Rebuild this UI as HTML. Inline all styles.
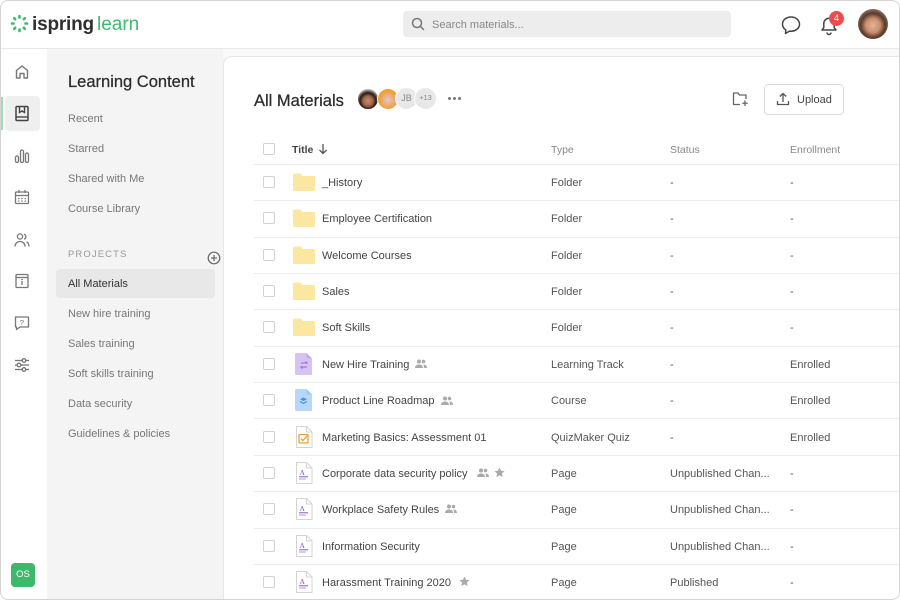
<!DOCTYPE html>
<html><head><meta charset="utf-8">
<style>
*{margin:0;padding:0;box-sizing:border-box}
html,body{width:900px;height:600px;overflow:hidden}
body{background:#fff;font-family:"Liberation Sans",Arial,sans-serif;position:relative;color:#444}
.a{position:absolute;white-space:nowrap}
.t{position:absolute;white-space:nowrap;height:16px;line-height:16px}
.side{font-size:11px;color:#777;left:68px}
.cb{position:absolute;left:263px;width:12px;height:12px;border:1px solid #d2d2d2;border-radius:2px;background:#fff}
.line{position:absolute;left:254px;width:646px;height:1px;background:#ececec}
.cell{position:absolute;font-size:11px;color:#555;height:16px;line-height:16px;white-space:nowrap}
.nm{color:#444;left:322px}
.ic{position:absolute}
</style></head><body>

<!-- header -->
<div class="a" style="left:0;top:48px;width:900px;height:1px;background:#e8e8e8"></div>
<svg class="ic" style="left:10px;top:14px" width="19" height="19" viewBox="0 0 19 19">
 <g stroke="#3dba6f" stroke-width="2.6" stroke-linecap="round">
  <line x1="9.5" y1="2" x2="9.5" y2="3.5"/><line x1="9.5" y1="15.5" x2="9.5" y2="17"/>
  <line x1="2" y1="9.5" x2="3.5" y2="9.5"/><line x1="15.5" y1="9.5" x2="17" y2="9.5"/>
  <line x1="4.2" y1="4.2" x2="5.2" y2="5.2"/><line x1="13.8" y1="13.8" x2="14.8" y2="14.8"/>
  <line x1="14.8" y1="4.2" x2="13.8" y2="5.2"/><line x1="4.2" y1="14.8" x2="5.2" y2="13.8"/>
 </g>
</svg>
<div class="a" style="left:32px;top:13px;font-size:19px;line-height:24px;font-weight:bold;color:#2f2f2f;letter-spacing:-0.2px">ispring</div>
<div class="a" style="left:97px;top:13px;font-size:19px;line-height:24px;color:#3dba6f">learn</div>

<div class="a" style="left:403px;top:11px;width:328px;height:26px;background:#ededed;border-radius:4px"></div>
<svg class="ic" style="left:411px;top:17px" width="14" height="14" viewBox="0 0 14 14"><circle cx="6" cy="6" r="4.5" fill="none" stroke="#777" stroke-width="1.5"/><line x1="9.3" y1="9.3" x2="12.5" y2="12.5" stroke="#777" stroke-width="1.5" stroke-linecap="round"/></svg>
<div class="t" style="left:432px;top:17px;font-size:11px;color:#888">Search materials...</div>

<svg class="ic" style="left:780px;top:14px" width="22" height="22" viewBox="0 0 22 22"><path d="M11 3C6 3 2.5 6.2 2.5 10.2c0 2.4 1.3 4.4 3.3 5.7L5.5 19.5l4-2.4c.5.1 1 .1 1.5.1 5 0 8.5-3.2 8.5-7S16 3 11 3z" fill="none" stroke="#444" stroke-width="1.5" stroke-linejoin="round"/></svg>
<svg class="ic" style="left:818px;top:14px" width="22" height="22" viewBox="0 0 22 22"><path d="M4 16h14l-1.8-2.4V9.5a5.2 5.2 0 0 0-10.4 0v4.1z" fill="none" stroke="#444" stroke-width="1.5" stroke-linejoin="round"/><path d="M9 18.5a2 2 0 0 0 4 0" fill="none" stroke="#444" stroke-width="1.5"/></svg>
<div class="a" style="left:829px;top:11px;width:15px;height:15px;border-radius:50%;background:#ef4b4b;color:#fff;font-size:9.5px;line-height:15px;text-align:center">4</div>
<div class="a" style="left:858px;top:9px;width:30px;height:30px;border-radius:50%;background:radial-gradient(circle at 50% 55%,#e2b59a 0,#c98f6e 32%,#5a3a2a 55%,#a08070 80%,#c9b3a5 100%)"></div>

<!-- left rail -->
<div class="a" style="left:5px;top:96px;width:35px;height:35px;border-radius:4px;background:#efefef"></div>
<div class="a" style="left:1px;top:97px;width:2px;height:33px;background:#9fdcb6"></div>
<svg class="ic" style="left:14px;top:64px" width="16" height="16" viewBox="0 0 16 16"><path d="M2.5 14V6.5L8 2l5.5 4.5V14h-3.5V9.5h-4V14z" fill="none" stroke="#777" stroke-width="1.4" stroke-linejoin="round"/></svg>
<svg class="ic" style="left:14px;top:105px" width="16" height="17" viewBox="0 0 16 17"><rect x="2" y="1.5" width="12" height="14" rx="1" fill="none" stroke="#444" stroke-width="1.5"/><line x1="2" y1="12" x2="14" y2="12" stroke="#444" stroke-width="1.4"/><path d="M5.5 1.5v6l2.5-1.5 2.5 1.5v-6" fill="none" stroke="#444" stroke-width="1.4"/></svg>
<svg class="ic" style="left:14px;top:148px" width="16" height="16" viewBox="0 0 16 16"><g fill="none" stroke="#777" stroke-width="1.3"><rect x="1.5" y="8" width="3" height="6.5" rx="1.5"/><rect x="6.5" y="2" width="3" height="12.5" rx="1.5"/><rect x="11.5" y="5" width="3" height="9.5" rx="1.5"/></g></svg>
<svg class="ic" style="left:14px;top:189px" width="16" height="16" viewBox="0 0 16 16"><g fill="none" stroke="#777" stroke-width="1.3"><rect x="1.5" y="3" width="13" height="11.5" rx="1"/><line x1="1.5" y1="6.5" x2="14.5" y2="6.5"/><line x1="5" y1="1" x2="5" y2="4"/><line x1="11" y1="1" x2="11" y2="4"/></g><g fill="#777"><rect x="4" y="9" width="1.4" height="1.2"/><rect x="7.3" y="9" width="1.4" height="1.2"/><rect x="10.6" y="9" width="1.4" height="1.2"/><rect x="4" y="11.5" width="1.4" height="1.2"/><rect x="7.3" y="11.5" width="1.4" height="1.2"/><rect x="10.6" y="11.5" width="1.4" height="1.2"/></g></svg>
<svg class="ic" style="left:14px;top:232px" width="16" height="16" viewBox="0 0 16 16"><g fill="none" stroke="#777" stroke-width="1.3"><circle cx="6" cy="4.5" r="2.6"/><path d="M1 14.5c0-3 2.2-5 5-5s5 2 5 5"/><path d="M10 2.2a2.6 2.6 0 0 1 0 5"/><path d="M12.5 9.8c1.6.7 2.5 2.5 2.5 4.7"/></g></svg>
<svg class="ic" style="left:14px;top:273px" width="16" height="16" viewBox="0 0 16 16"><g fill="none" stroke="#777" stroke-width="1.3"><rect x="2" y="1.5" width="12" height="13" rx="1"/><line x1="2" y1="4.5" x2="14" y2="4.5"/><line x1="8" y1="8" x2="8" y2="12"/></g><circle cx="8" cy="6.5" r=".8" fill="#777"/></svg>
<svg class="ic" style="left:14px;top:315px" width="16" height="16" viewBox="0 0 16 16"><path d="M1.5 2h13v10H6l-3.5 2.5V12h-1z" fill="none" stroke="#777" stroke-width="1.3" stroke-linejoin="round"/><text x="8" y="10" font-size="7.5" text-anchor="middle" fill="#777" font-family="Liberation Sans">?</text></svg>
<svg class="ic" style="left:14px;top:357px" width="16" height="16" viewBox="0 0 16 16"><g fill="none" stroke="#777" stroke-width="1.3"><line x1="1" y1="3.5" x2="15" y2="3.5"/><line x1="1" y1="8" x2="15" y2="8"/><line x1="1" y1="12.5" x2="15" y2="12.5"/></g><g fill="#fff" stroke="#777" stroke-width="1.3"><circle cx="10" cy="3.5" r="1.8"/><circle cx="5" cy="8" r="1.8"/><circle cx="10" cy="12.5" r="1.8"/></g></svg>
<div class="a" style="left:11px;top:563px;width:24px;height:24px;border-radius:4px;background:#3db86c;color:#fff;font-size:9.5px;line-height:24px;text-align:center">OS</div>

<!-- sidebar -->
<div class="a" style="left:47px;top:49px;width:180px;height:551px;background:#f4f4f4"></div>
<div class="a" style="left:223px;top:49px;width:677px;height:8px;background:#f9f9f9"></div>
<div class="t" style="left:68px;top:72px;height:20px;line-height:20px;font-size:16.5px;color:#2c2c2c;-webkit-text-stroke:0.25px #2c2c2c">Learning Content</div>
<div class="t side" style="top:111px">Recent</div>
<div class="t side" style="top:141px">Starred</div>
<div class="t side" style="top:171px">Shared with Me</div>
<div class="t side" style="top:201px">Course Library</div>
<div class="t" style="left:68px;top:247px;font-size:9.5px;color:#999;letter-spacing:1.1px">PROJECTS</div>
<svg class="ic" style="left:207px;top:251px" width="14" height="14" viewBox="0 0 14 14"><circle cx="7" cy="7" r="5.8" fill="none" stroke="#666" stroke-width="1.2"/><line x1="7" y1="4" x2="7" y2="10" stroke="#666" stroke-width="1.2"/><line x1="4" y1="7" x2="10" y2="7" stroke="#666" stroke-width="1.2"/></svg>
<div class="a" style="left:56px;top:269px;width:159px;height:29px;background:#e8e8e8;border-radius:4px"></div>
<div class="t side" style="top:276px;color:#333">All Materials</div>
<div class="t side" style="top:306px">New hire training</div>
<div class="t side" style="top:336px">Sales training</div>
<div class="t side" style="top:366px">Soft skills training</div>
<div class="t side" style="top:396px">Data security</div>
<div class="t side" style="top:426px">Guidelines &amp; policies</div>

<!-- main panel -->
<div class="a" style="left:223px;top:56px;width:690px;height:544px;background:#fff;border-left:1px solid #e6e6e6;border-top:1px solid #e6e6e6;border-top-left-radius:9px"></div>
<div class="t" style="left:254px;top:91px;height:20px;line-height:20px;font-size:16.5px;color:#2c2c2c;-webkit-text-stroke:0.25px #2c2c2c">All Materials</div>
<div class="a" style="left:357px;top:88px;width:22px;height:22px;border-radius:50%;border:1.5px solid #fff;background:radial-gradient(circle at 50% 60%,#c58d6c 0,#a0684a 30%,#2a1a14 52%,#e8dcd6 80%)"></div>
<div class="a" style="left:377px;top:88px;width:22px;height:22px;border-radius:50%;border:1.5px solid #fff;background:radial-gradient(circle at 50% 55%,#f2c8a8 0,#e5ad8b 35%,#f0a030 60%,#f2a53a 100%)"></div>
<div class="a" style="left:395px;top:87px;width:23px;height:23px;border-radius:50%;border:1.5px solid #fff;background:#e8e8e8;color:#888;font-size:9px;line-height:20px;text-align:center">JB</div>
<div class="a" style="left:414px;top:87px;width:23px;height:23px;border-radius:50%;border:1.5px solid #fff;background:#e8e8e8;color:#888;font-size:7.5px;line-height:20px;text-align:center">+13</div>
<div class="a" style="left:448px;top:97px;width:3px;height:3px;border-radius:50%;background:#777;box-shadow:5px 0 #777,10px 0 #777"></div>

<svg class="ic" style="left:732px;top:91px" width="17" height="16" viewBox="0 0 17 16"><path d="M8 13.5H1.5V2h4.5l1.5 2h6.5v4" fill="none" stroke="#666" stroke-width="1.3" stroke-linejoin="round"/><line x1="13" y1="9.5" x2="13" y2="15" stroke="#666" stroke-width="1.3"/><line x1="10.3" y1="12.2" x2="15.7" y2="12.2" stroke="#666" stroke-width="1.3"/></svg>
<div class="a" style="left:764px;top:84px;width:80px;height:31px;border:1px solid #dcdcdc;border-radius:4px"></div>
<svg class="ic" style="left:776px;top:92px" width="14" height="14" viewBox="0 0 14 14"><path d="M7 10V1.5M3.8 4.5 7 1.5l3.2 3M1.5 9v3.5h11V9" fill="none" stroke="#555" stroke-width="1.3" stroke-linejoin="round"/></svg>
<div class="t" style="left:797px;top:92px;font-size:11px;color:#444">Upload</div>

<!-- table header -->
<div class="cb" style="top:143px"></div>
<div class="t" style="left:292px;top:142px;font-size:10.5px;color:#444;font-weight:bold">Title</div>
<svg class="ic" style="left:318px;top:143px" width="10" height="12" viewBox="0 0 10 12"><path d="M5 1v9.5M1.5 7 5 10.5 8.5 7" fill="none" stroke="#555" stroke-width="1.3"/></svg>
<div class="t" style="left:551px;top:142px;font-size:10.5px;color:#888">Type</div>
<div class="t" style="left:670px;top:142px;font-size:10.5px;color:#888">Status</div>
<div class="t" style="left:790px;top:142px;font-size:10.5px;color:#888">Enrollment</div>

<div class="line" style="top:164px"></div>
<div class="line" style="top:200px"></div>
<div class="line" style="top:237px"></div>
<div class="line" style="top:273px"></div>
<div class="line" style="top:309px"></div>
<div class="line" style="top:346px"></div>
<div class="line" style="top:382px"></div>
<div class="line" style="top:418px"></div>
<div class="line" style="top:455px"></div>
<div class="line" style="top:491px"></div>
<div class="line" style="top:528px"></div>
<div class="line" style="top:564px"></div>

<svg width="0" height="0" style="position:absolute">
 <defs>
  <symbol id="fold" viewBox="0 0 22 18"><path d="M0 2a1.5 1.5 0 0 1 1.5-1.5h6l2 2.5H20.5A1.5 1.5 0 0 1 22 4.5V16.5A1.5 1.5 0 0 1 20.5 18H1.5A1.5 1.5 0 0 1 0 16.5z" fill="#fce7a0"/></symbol>
  <symbol id="page" viewBox="0 0 18 22"><path d="M1.5 .5h10l5.5 5.5v15.5h-15.5z" fill="#fff" stroke="#d4d4d4"/><path d="M11.5 .5v5.5h5.5" fill="none" stroke="#d4d4d4"/><text x="4.5" y="13" font-size="7.5" fill="#8754d6" font-family="Liberation Serif">A</text><line x1="4" y1="14.8" x2="13" y2="14.8" stroke="#8754d6" stroke-width="1"/><line x1="4" y1="17" x2="11" y2="17" stroke="#b797e8" stroke-width="1"/></symbol>
 </defs>
</svg>

<!-- rows -->
<div class="cb" style="top:176px"></div>
<svg class="ic" style="left:293px;top:173px" width="22" height="18"><use href="#fold"/></svg>
<div class="cell nm" style="top:175px">_History</div>
<div class="cell" style="left:551px;top:175px">Folder</div><div class="cell" style="left:670px;top:175px">-</div><div class="cell" style="left:790px;top:175px">-</div>

<div class="cb" style="top:212px"></div>
<svg class="ic" style="left:293px;top:209px" width="22" height="18"><use href="#fold"/></svg>
<div class="cell nm" style="top:211px">Employee Certification</div>
<div class="cell" style="left:551px;top:211px">Folder</div><div class="cell" style="left:670px;top:211px">-</div><div class="cell" style="left:790px;top:211px">-</div>

<div class="cb" style="top:249px"></div>
<svg class="ic" style="left:293px;top:246px" width="22" height="18"><use href="#fold"/></svg>
<div class="cell nm" style="top:248px">Welcome Courses</div>
<div class="cell" style="left:551px;top:248px">Folder</div><div class="cell" style="left:670px;top:248px">-</div><div class="cell" style="left:790px;top:248px">-</div>

<div class="cb" style="top:285px"></div>
<svg class="ic" style="left:293px;top:282px" width="22" height="18"><use href="#fold"/></svg>
<div class="cell nm" style="top:284px">Sales</div>
<div class="cell" style="left:551px;top:284px">Folder</div><div class="cell" style="left:670px;top:284px">-</div><div class="cell" style="left:790px;top:284px">-</div>

<div class="cb" style="top:321px"></div>
<svg class="ic" style="left:293px;top:318px" width="22" height="18"><use href="#fold"/></svg>
<div class="cell nm" style="top:320px">Soft Skills</div>
<div class="cell" style="left:551px;top:320px">Folder</div><div class="cell" style="left:670px;top:320px">-</div><div class="cell" style="left:790px;top:320px">-</div>

<!-- New Hire Training -->
<div class="cb" style="top:358px"></div>
<svg class="ic" style="left:295px;top:353px" width="18" height="22" viewBox="0 0 18 22"><path d="M1.5 0h10l5.5 5.5V22H1.5A1.5 1.5 0 0 1 0 20.5V1.5A1.5 1.5 0 0 1 1.5 0z" fill="#d7c2f4"/><path d="M11.5 0v5.5H17" fill="#c5aaf0"/><g fill="none" stroke="#9a66e0" stroke-width="1.1"><path d="M6 10h6l-1.5-1.5M12 14H6l1.5 1.5"/></g></svg>
<div class="cell nm" style="top:357px">New Hire Training</div>
<svg class="ic" style="left:415px;top:359px" width="12" height="10" viewBox="0 0 12 10"><g fill="#aaa"><circle cx="4" cy="2.5" r="2"/><path d="M0 9c0-2.2 1.8-3.5 4-3.5S8 6.8 8 9z"/><circle cx="8.5" cy="2.5" r="1.8"/><path d="M8.5 5.5c2 0 3.5 1.3 3.5 3.5H9c0-1.4-.3-2.5-.5-3.5z"/></g></svg>
<div class="cell" style="left:551px;top:357px">Learning Track</div><div class="cell" style="left:670px;top:357px">-</div><div class="cell" style="left:790px;top:357px">Enrolled</div>

<!-- Product Line Roadmap -->
<div class="cb" style="top:394px"></div>
<svg class="ic" style="left:295px;top:389px" width="18" height="22" viewBox="0 0 18 22"><path d="M1.5 0h10l5.5 5.5V22H1.5A1.5 1.5 0 0 1 0 20.5V1.5A1.5 1.5 0 0 1 1.5 0z" fill="#b5d8fb"/><path d="M11.5 0v5.5H17" fill="#9ec8f5"/><path d="M8.5 8.5 12 10.3 8.5 12 5 10.3z" fill="#4a8fe3"/><path d="M5 12.5l3.5 1.8 3.5-1.8" fill="none" stroke="#4a8fe3" stroke-width="1.2"/></svg>
<div class="cell nm" style="top:393px">Product Line Roadmap</div>
<svg class="ic" style="left:441px;top:396px" width="12" height="10" viewBox="0 0 12 10"><g fill="#aaa"><circle cx="4" cy="2.5" r="2"/><path d="M0 9c0-2.2 1.8-3.5 4-3.5S8 6.8 8 9z"/><circle cx="8.5" cy="2.5" r="1.8"/><path d="M8.5 5.5c2 0 3.5 1.3 3.5 3.5H9c0-1.4-.3-2.5-.5-3.5z"/></g></svg>
<div class="cell" style="left:551px;top:393px">Course</div><div class="cell" style="left:670px;top:393px">-</div><div class="cell" style="left:790px;top:393px">Enrolled</div>

<!-- Marketing Basics -->
<div class="cb" style="top:431px"></div>
<svg class="ic" style="left:295px;top:426px" width="18" height="22" viewBox="0 0 18 22"><path d="M1.5 .5h10l5.5 5.5v15.5h-15.5z" fill="#fff" stroke="#d4d4d4"/><path d="M11.5 .5v5.5h5.5" fill="none" stroke="#d4d4d4"/><rect x="4" y="8.5" width="9" height="8.5" rx="1" fill="none" stroke="#f29b2c" stroke-width="1.3"/><path d="M6 12.5l2 2 4.5-5" fill="none" stroke="#f29b2c" stroke-width="1.3"/></svg>
<div class="cell nm" style="top:430px">Marketing Basics: Assessment 01</div>
<div class="cell" style="left:551px;top:430px">QuizMaker Quiz</div><div class="cell" style="left:670px;top:430px">-</div><div class="cell" style="left:790px;top:430px">Enrolled</div>

<!-- Corporate data security policy -->
<div class="cb" style="top:467px"></div>
<svg class="ic" style="left:295px;top:462px" width="18" height="22"><use href="#page"/></svg>
<div class="cell nm" style="top:466px">Corporate data security policy</div>
<svg class="ic" style="left:477px;top:468px" width="12" height="10" viewBox="0 0 12 10"><g fill="#aaa"><circle cx="4" cy="2.5" r="2"/><path d="M0 9c0-2.2 1.8-3.5 4-3.5S8 6.8 8 9z"/><circle cx="8.5" cy="2.5" r="1.8"/><path d="M8.5 5.5c2 0 3.5 1.3 3.5 3.5H9c0-1.4-.3-2.5-.5-3.5z"/></g></svg>
<svg class="ic" style="left:494px;top:467px" width="11" height="11" viewBox="0 0 12 12"><path d="M6 .5l1.7 3.6 3.8.4-2.9 2.6.8 3.9L6 9l-3.4 2 .8-3.9L.5 4.5l3.8-.4z" fill="#aaa"/></svg>
<div class="cell" style="left:551px;top:466px">Page</div><div class="cell" style="left:670px;top:466px">Unpublished Chan...</div><div class="cell" style="left:790px;top:466px">-</div>

<!-- Workplace Safety Rules -->
<div class="cb" style="top:503px"></div>
<svg class="ic" style="left:295px;top:498px" width="18" height="22"><use href="#page"/></svg>
<div class="cell nm" style="top:502px">Workplace Safety Rules</div>
<svg class="ic" style="left:445px;top:504px" width="12" height="10" viewBox="0 0 12 10"><g fill="#aaa"><circle cx="4" cy="2.5" r="2"/><path d="M0 9c0-2.2 1.8-3.5 4-3.5S8 6.8 8 9z"/><circle cx="8.5" cy="2.5" r="1.8"/><path d="M8.5 5.5c2 0 3.5 1.3 3.5 3.5H9c0-1.4-.3-2.5-.5-3.5z"/></g></svg>
<div class="cell" style="left:551px;top:502px">Page</div><div class="cell" style="left:670px;top:502px">Unpublished Chan...</div><div class="cell" style="left:790px;top:502px">-</div>

<!-- Information Security -->
<div class="cb" style="top:540px"></div>
<svg class="ic" style="left:295px;top:535px" width="18" height="22"><use href="#page"/></svg>
<div class="cell nm" style="top:539px">Information Security</div>
<div class="cell" style="left:551px;top:539px">Page</div><div class="cell" style="left:670px;top:539px">Unpublished Chan...</div><div class="cell" style="left:790px;top:539px">-</div>

<!-- Harassment Training 2020 -->
<div class="cb" style="top:576px"></div>
<svg class="ic" style="left:295px;top:571px" width="18" height="22"><use href="#page"/></svg>
<div class="cell nm" style="top:575px">Harassment Training 2020</div>
<svg class="ic" style="left:459px;top:576px" width="11" height="11" viewBox="0 0 12 12"><path d="M6 .5l1.7 3.6 3.8.4-2.9 2.6.8 3.9L6 9l-3.4 2 .8-3.9L.5 4.5l3.8-.4z" fill="#aaa"/></svg>
<div class="cell" style="left:551px;top:575px">Page</div><div class="cell" style="left:670px;top:575px">Published</div><div class="cell" style="left:790px;top:575px">-</div>

<!-- outer frame -->
<div class="a" style="left:0;top:0;width:900px;height:600px;border:1px solid #d4d4d4;border-radius:8px;pointer-events:none"></div>
</body></html>
